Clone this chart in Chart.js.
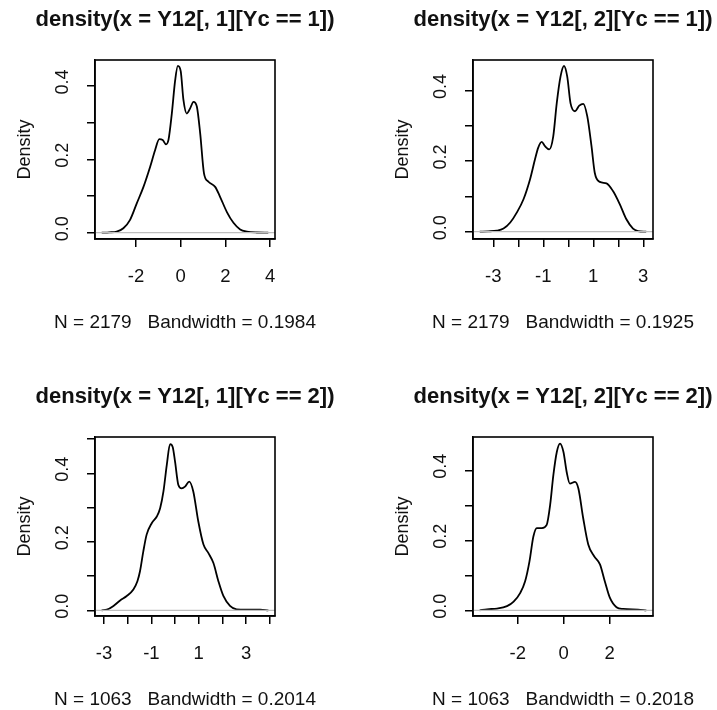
<!DOCTYPE html>
<html>
<head>
<meta charset="utf-8">
<script src="https://cdn.jsdelivr.net/npm/chart.js@4/dist/chart.umd.min.js"></script>
<style>
  body { margin: 0; background: #fff; width: 717px; height: 710px; overflow: hidden; position: relative; }
  canvas { position: absolute; }
</style>
</head>
<body>
<canvas id="c1" width="370" height="345" style="left:0px;top:0px"></canvas>
<canvas id="c2" width="370" height="345" style="left:378px;top:0px"></canvas>
<canvas id="c3" width="370" height="345" style="left:0px;top:377px"></canvas>
<canvas id="c4" width="370" height="345" style="left:378px;top:377px"></canvas>
<script>
// density curves (x, density)
const p1X = [-3.54, -3.2, -2.87, -2.57, -2.27, -1.97, -1.67, -1.37, -1.15, -0.96, -0.81, -0.66, -0.55, -0.4, -0.25, -0.13, 0.0, 0.12, 0.27, 0.42, 0.57, 0.72, 0.87, 1.04, 1.24, 1.54, 1.76, 2.06, 2.36, 2.66, 2.96, 3.4, 3.92];
const p1Y = [0, 0.001, 0.003, 0.012, 0.035, 0.08, 0.125, 0.18, 0.225, 0.255, 0.253, 0.241, 0.253, 0.325, 0.416, 0.455, 0.44, 0.362, 0.325, 0.339, 0.357, 0.344, 0.271, 0.162, 0.139, 0.125, 0.098, 0.057, 0.027, 0.009, 0.003, 0.0005, 0];

const p2X = [-3.54, -3.2, -2.86, -2.59, -2.32, -2.06, -1.79, -1.53, -1.33, -1.2, -1.06, -0.93, -0.76, -0.6, -0.46, -0.31, -0.17, -0.04, 0.09, 0.27, 0.44, 0.6, 0.76, 0.93, 1.06, 1.26, 1.53, 1.79, 2.06, 2.32, 2.59, 2.79, 3.12];
const p2Y = [0, 0.001, 0.003, 0.009, 0.026, 0.054, 0.092, 0.148, 0.205, 0.238, 0.254, 0.242, 0.233, 0.27, 0.364, 0.439, 0.469, 0.439, 0.364, 0.341, 0.357, 0.362, 0.327, 0.242, 0.167, 0.141, 0.137, 0.115, 0.078, 0.036, 0.009, 0.002, 0];

const p3X = [-3.1, -2.88, -2.6, -2.32, -2.04, -1.76, -1.59, -1.48, -1.34, -1.2, -0.98, -0.77, -0.63, -0.49, -0.35, -0.21, -0.1, 0.0, 0.14, 0.28, 0.42, 0.6, 0.77, 0.98, 1.2, 1.41, 1.62, 1.83, 2.04, 2.32, 2.6, 3.02, 3.59, 3.94];
const p3Y = [0, 0.002, 0.013, 0.029, 0.042, 0.061, 0.085, 0.114, 0.172, 0.221, 0.255, 0.274, 0.298, 0.347, 0.424, 0.485, 0.477, 0.434, 0.366, 0.356, 0.361, 0.376, 0.347, 0.26, 0.192, 0.167, 0.138, 0.085, 0.042, 0.013, 0.003, 0.002, 0.002, 0];

const p4X = [-3.66, -3.34, -2.9, -2.47, -2.18, -1.89, -1.68, -1.49, -1.32, -1.17, -0.95, -0.74, -0.59, -0.45, -0.3, -0.16, -0.01, 0.13, 0.27, 0.49, 0.64, 0.85, 1.07, 1.32, 1.58, 1.79, 2.01, 2.3, 2.59, 3.24, 3.6];
const p4Y = [0, 0.003, 0.005, 0.012, 0.025, 0.05, 0.083, 0.14, 0.211, 0.235, 0.235, 0.244, 0.301, 0.386, 0.452, 0.476, 0.452, 0.395, 0.362, 0.367, 0.348, 0.263, 0.188, 0.155, 0.131, 0.083, 0.036, 0.009, 0.004, 0.002, 0];

// tick labels
const p1XLabels = [-2, 0, 2, 4];
const p2XLabels = [-3, -1, 1, 3];
const p3XLabels = [-3, -1, 1, 3];
const p4XLabels = [-2, 0, 2];
const yTickLabels = [0, 0.2, 0.4];

const titles = [
  "density(x = Y12[, 1][Yc == 1])",
  "density(x = Y12[, 2][Yc == 1])",
  "density(x = Y12[, 1][Yc == 2])",
  "density(x = Y12[, 2][Yc == 2])",
];
const subs = [
  "N = 2179   Bandwidth = 0.1984",
  "N = 2179   Bandwidth = 0.1925",
  "N = 1063   Bandwidth = 0.2014",
  "N = 1063   Bandwidth = 0.2018",
];

const FONT = "'Liberation Sans', Arial, sans-serif";
const INK = "#111";

// zero line (drawn over the curve like R does), the box, and the rotated y labels
const rPlot = {
  id: "rPlot",
  afterDatasetsDraw(chart) {
    const ctx = chart.ctx;
    const a = chart.chartArea;
    const yScale = chart.scales.y;
    const y0 = yScale.getPixelForValue(0);
    ctx.save();
    ctx.strokeStyle = "#bebebe";
    ctx.lineWidth = 1.2;
    ctx.beginPath();
    ctx.moveTo(a.left, y0);
    ctx.lineTo(a.right, y0);
    ctx.stroke();

    ctx.strokeStyle = "#000";
    ctx.lineWidth = 1.6;
    ctx.strokeRect(a.left, a.top, a.right - a.left, a.bottom - a.top);

    ctx.fillStyle = INK;
    ctx.font = "18px " + FONT;
    ctx.textAlign = "center";
    ctx.textBaseline = "middle";
    yTickLabels.forEach((v) => {
      ctx.save();
      ctx.translate(a.left - 32.3, yScale.getPixelForValue(v) - 4);
      ctx.rotate(-Math.PI / 2);
      ctx.fillText(v.toFixed(1), 0, 0);
      ctx.restore();
    });
    ctx.restore();
  },
};

function makePanel(id, xs, ys, xMin, xMax, xStep, xLabels, yMin, yMax, title, sub) {
  const axisLine = {
    display: true,
    drawOnChartArea: false,
    drawTicks: true,
    tickLength: 8,
    color: "#000",
    lineWidth: 1.5,
  };
  new Chart(document.getElementById(id), {
    type: "line",
    data: {
      datasets: [
        {
          data: xs.map((x, i) => ({ x: x, y: ys[i] })),
          borderColor: "#000",
          borderWidth: 1.8,
          pointRadius: 0,
          fill: false,
          cubicInterpolationMode: "monotone",
        },
      ],
    },
    options: {
      responsive: false,
      animation: false,
      layout: { padding: 0 },
      plugins: {
        legend: { display: false },
        tooltip: { enabled: false },
        title: {
          display: true,
          text: title,
          color: INK,
          font: { family: FONT, size: 22, weight: "bold" },
          padding: { top: 6.7, bottom: 26.9 },
        },
        subtitle: {
          display: true,
          position: "bottom",
          text: sub,
          color: INK,
          font: { family: FONT, size: 19 },
          padding: { top: 0, bottom: 10.5 },
        },
      },
      scales: {
        x: {
          type: "linear",
          min: xMin,
          max: xMax,
          afterFit: (s) => { s.height = 72.7; },
          grid: axisLine,
          border: { display: true, color: "#000", width: 1.5 },
          ticks: {
            stepSize: xStep,
            includeBounds: false,
            autoSkip: false,
            maxRotation: 0,
            minRotation: 0,
            padding: 18.5,
            color: INK,
            font: { family: FONT, size: 18.5 },
            callback: (v) => (xLabels.includes(v) ? String(v) : ""),
          },
        },
        y: {
          type: "linear",
          position: "left",
          min: yMin,
          max: yMax,
          afterFit: (s) => { s.width = 95; },
          grid: axisLine,
          border: { display: true, color: "#000", width: 1.5 },
          ticks: { display: false, stepSize: 0.1, includeBounds: false },
          title: {
            display: true,
            text: "Density",
            color: INK,
            font: { family: FONT, size: 18 },
            padding: { top: 14.5, bottom: 0 },
          },
        },
        // empty right margin so the titles sit centred over the box
        yR: {
          type: "linear",
          position: "right",
          display: true,
          min: 0,
          max: 1,
          afterFit: (s) => { s.width = 95; },
          grid: { display: false },
          border: { display: false },
          ticks: { display: false },
        },
      },
    },
    plugins: [rPlot],
  });
}

makePanel("c1", p1X, p1Y, -3.84, 4.22, 2, p1XLabels, -0.0172, 0.471, titles[0], subs[0]);
makePanel("c2", p2X, p2Y, -3.81, 3.39, 1, p2XLabels, -0.0206, 0.486, titles[1], subs[1]);
makePanel("c3", p3X, p3Y, -3.38, 4.22, 1, p3XLabels, -0.0165, 0.506, titles[2], subs[2]);
makePanel("c4", p4X, p4Y, -3.95, 3.89, 2, p4XLabels, -0.0162, 0.495, titles[3], subs[3]);
</script>
</body>
</html>
